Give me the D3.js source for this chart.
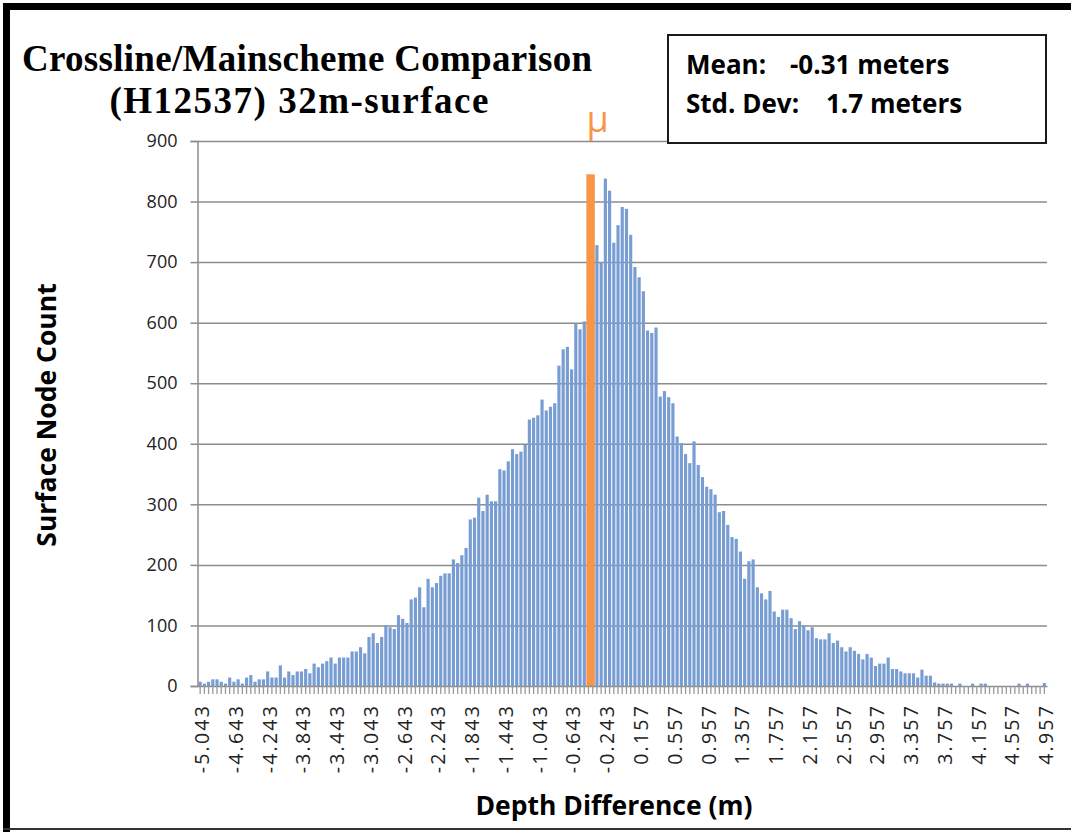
<!DOCTYPE html>
<html>
<head>
<meta charset="utf-8">
<script src="https://cdn.jsdelivr.net/npm/d3@7"></script>
<style>
  html, body { margin: 0; padding: 0; background: #fff; }
  svg text { font-family: "Open Sans", Lato, sans-serif; }
</style>
</head>
<body>
<div id="chart-histogram"></div>
<script>
// depth difference histogram, crossline vs mainscheme
(function() {
    const BIN_START = -5.043, BIN_STEP = 0.05, BIN_COUNT = 201;
    const bins = d3.range(BIN_COUNT).map(i => (BIN_START + i * BIN_STEP).toFixed(3));

    // surface node count per 0.05 m bin
    const counts = [
          7,   4,   7,  11,  11,   7,   4,  14,   7,  11,
          4,  14,  18,   7,  11,  11,  24,  14,  14,  34,
         14,  24,  18,  24,  24,  28,  21,  37,  31,  37,
         41,  47,  37,  47,  47,  47,  57,  57,  64,  54,
         81,  87,  71,  81, 100,  97,  94, 117, 111, 104,
        143, 146, 163, 130, 177, 163, 170, 182, 186, 186,
        209, 203, 216, 228, 275, 278, 311, 289, 316, 305,
        305, 358, 356, 371, 391, 383, 387, 398, 440, 443,
        447, 473, 455, 461, 467, 529, 556, 560, 523, 599,
        589, 602, 640, 700, 728, 699, 838, 818, 732, 761,
        791, 788, 745, 692, 675, 652, 587, 583, 592, 478,
        487, 477, 467, 412, 401, 383, 368, 404, 365, 345,
        329, 325, 316, 287, 289, 266, 246, 243, 222, 177,
        206, 209, 163, 153, 143, 157, 123, 114, 126, 126,
        112,  94, 107, 100,  92,  97,  79,  77,  77,  87,
         71,  75,  64,  57,  64,  58,  53,  44,  53,  47,
         33,  37,  37,  47,  28,  28,  24,  21,  21,  21,
         14,  27,  17,  17,   6,   4,   4,   4,   4,   0,
          4,   0,   0,   4,   0,   4,   4,   0,   0,   0,
          0,   0,   0,   0,   4,   0,   4,   0,   0,   0,
          5
    ];

    const xTickLabels = ["-5.043","-4.643","-4.243","-3.843","-3.443","-3.043","-2.643","-2.243","-1.843",
        "-1.443","-1.043","-0.643","-0.243","0.157","0.557","0.957","1.357","1.757","2.157","2.557",
        "2.957","3.357","3.757","4.157","4.557","4.957"];
    const yTicks = [0, 100, 200, 300, 400, 500, 600, 700, 800, 900];

    // orange mean marker drawn over two bins
    const meanBins = ["-0.443", "-0.393"];
    const meanMarkerHeight = 845;

    const statLabels = ["Mean:", "Std. Dev:"];
    const statValues = ["-0.31 meters", "1.7 meters"];
    const titleLines = ["Crossline/Mainscheme Comparison", "(H12537) 32m-surface"];
    const titleWidths = [570, 379];

    const totalW = 1071, totalH = 832;
    const margin = { top: 141, right: 24, bottom: 146, left: 197.5 };
    const W = totalW - margin.left - margin.right, H = totalH - margin.top - margin.bottom;

    const root = d3.select("#chart-histogram").append("svg")
        .attr("width", totalW).attr("height", totalH);

    // frame
    root.append("rect").attr("x", 3).attr("y", 3).attr("width", totalW - 3).attr("height", 7).attr("fill", "#000");
    root.append("rect").attr("x", 3).attr("y", 3).attr("width", 7).attr("height", totalH - 3).attr("fill", "#000");
    root.append("line").attr("x1", 3).attr("x2", totalW).attr("y1", 829).attr("y2", 829)
        .attr("stroke", "#333").attr("stroke-width", 2);

    const svg = root.append("g").attr("transform", `translate(${margin.left},${margin.top})`);

    const data = bins.map((b, i) => ({ bin: b, count: counts[i] }));
    const x = d3.scaleBand().domain(bins).range([0, W]).padding(0.25);
    const y = d3.scaleLinear().domain([0, 900]).range([H, 0]);

    svg.append("g").attr("class", "grid")
        .call(d3.axisLeft(y).tickValues(yTicks.slice(1)).tickSize(-W).tickFormat(""))
        .call(g => g.select(".domain").remove())
        .call(g => g.selectAll("line").attr("stroke", "#8c8c8c").attr("stroke-width", 1.5));

    svg.append("g").selectAll("rect").data(data).enter().append("rect")
        .attr("x", d => x(d.bin)).attr("y", d => y(d.count))
        .attr("width", x.bandwidth()).attr("height", d => H - y(d.count))
        .attr("fill", "#779dd3");

    // mean marker
    const mx0 = x(meanBins[0]) - x.step() * x.paddingInner() / 2;
    const mx1 = x(meanBins[1]) + x.bandwidth() + x.step() * x.paddingInner() / 2;
    svg.append("rect").attr("x", mx0).attr("y", y(meanMarkerHeight))
        .attr("width", mx1 - mx0).attr("height", H - y(meanMarkerHeight)).attr("fill", "#f79646");
    svg.append("text").attr("x", (mx0 + mx1) / 2 + 7).attr("y", -9)
        .attr("text-anchor", "middle").attr("fill", "#f79646").style("font-size", "36px").text("\u03bc");

    // y axis
    svg.append("g")
        .call(d3.axisLeft(y).tickValues(yTicks).tickSize(7).tickPadding(13))
        .call(g => g.select(".domain").attr("stroke", "#8c8c8c").attr("stroke-width", 1.5))
        .call(g => g.selectAll(".tick line").attr("stroke", "#8c8c8c").attr("stroke-width", 1.5))
        .call(g => g.selectAll("text").attr("fill", "#222").style("font-size", "18px"));

    // x axis: a tick for every bin, labels for every 8th
    svg.append("g").attr("transform", `translate(0,${H})`)
        .call(d3.axisBottom(x).tickValues(bins).tickSize(8).tickFormat("").tickSizeOuter(0))
        .call(g => g.select(".domain").attr("stroke", "#8c8c8c").attr("stroke-width", 1.5))
        .call(g => g.selectAll(".tick line").attr("stroke", "#9a9a9a").attr("stroke-width", 1.3));
    svg.append("g").attr("transform", `translate(0,${H})`)
        .call(d3.axisBottom(x).tickValues(xTickLabels).tickSize(0))
        .call(g => g.select(".domain").remove())
        .call(g => g.selectAll("text")
            .attr("transform", "rotate(-90)").attr("text-anchor", "end")
            .attr("x", -18).attr("y", 2).attr("dy", "0.35em")
            .attr("fill", "#222").style("font-size", "19.5px").style("letter-spacing", "2.2px"));

    // axis titles
    root.append("text").attr("transform", "translate(47,415) rotate(-90)")
        .attr("text-anchor", "middle").attr("dy", "0.35em")
        .style("font-size", "26.5px").style("font-weight", "bold").text("Surface Node Count");
    root.append("text").attr("x", 614).attr("y", 806)
        .attr("text-anchor", "middle").attr("dy", "0.35em")
        .style("font-size", "26.5px").style("font-weight", "bold").text("Depth Difference (m)");

    // title
    titleLines.forEach((t, i) => {
        root.append("text").attr("x", 22 + (570 - titleWidths[i]) / 2 + (i ? -8 : 0)).attr("y", 71 + i * 42)
            .attr("textLength", titleWidths[i])
            .style("font-family", "'Liberation Serif', serif").style("font-size", "37px")
            .style("font-weight", "bold").text(t);
    });

    // stats box
    root.append("rect").attr("x", 668).attr("y", 35).attr("width", 378).attr("height", 108)
        .attr("fill", "#fff").attr("stroke", "#1a1a1a").attr("stroke-width", 2);
    const valueX = [790, 826];
    statLabels.forEach((lab, i) => {
        const by = 74 + i * 39;
        root.append("text").attr("x", 686).attr("y", by)
            .style("font-size", "26px").style("font-weight", "bold").text(lab);
        root.append("text").attr("x", valueX[i]).attr("y", by)
            .style("font-size", "26px").style("font-weight", "bold").text(statValues[i]);
    });
})();
</script>
</body>
</html>
